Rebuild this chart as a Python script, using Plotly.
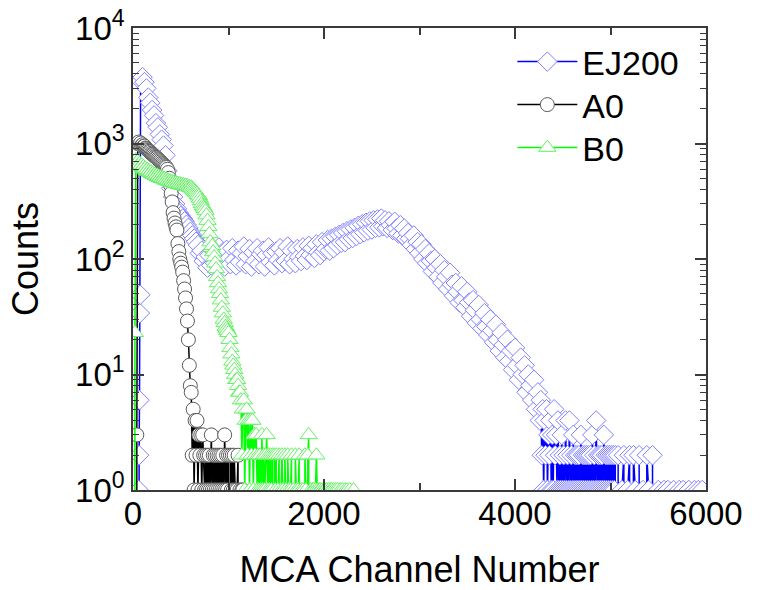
import plotly.graph_objects as go

# ---------------- data ----------------
# EJ200: threshold channels, main grid (step 20), dense tail (step 10), far tail (step 20)
ej200_lead_channel = [0, 20, 40, 60, 64, 68, 72, 76]
ej200_lead_counts = [0, 0, 0, 1, 2, 6, 34, 49]
ej200_main_start, ej200_main_step = 80, 20
ej200_main_counts = [
    3500, 3750, 3400, 3000, 2500, 2250, 1950, 1750, 1500, 1380,
    1200, 1080, 960, 790, 580, 480, 410, 345, 300, 272,
    250, 236, 224, 212, 198, 186, 172, 160, 150, 141,
    132, 112, 118, 96, 104, 84, 108, 88, 118, 92,
    110, 126, 92, 114, 86, 120, 100, 90, 124, 98,
    88, 118, 94, 112, 128, 90, 106, 122, 86, 114,
    96, 124, 90, 110, 118, 86, 108, 126, 94, 112,
    88, 116, 98, 124, 92, 114, 96, 128, 90, 118,
    100, 92, 122, 104, 96, 126, 106, 98, 130, 108,
    124, 102, 134, 114, 108, 140, 116, 122, 146, 118,
    150, 124, 156, 132, 162, 138, 168, 140, 174, 148,
    180, 152, 186, 158, 194, 164, 200, 170, 206, 176,
    212, 180, 216, 186, 220, 188, 224, 192, 216, 186,
    212, 196, 178, 210, 184, 166, 196, 160, 184, 150,
    168, 150, 132, 160, 122, 140, 112, 134, 100, 122,
    92, 112, 96, 78, 100, 84, 70, 90, 62, 80,
    70, 55, 76, 60, 48, 62, 52, 42, 58, 44,
    38, 52, 42, 32, 44, 36, 28, 40, 30, 25,
    34, 26, 22, 30, 24, 19, 27, 20, 16, 23,
    18, 14, 20, 13, 16, 11, 17, 12, 9, 14,
    10, 12, 7, 10, 8, 6, 9, 5, 7, 4,
]
ej200_tail_start, ej200_tail_step = 4270, 10
ej200_tail_counts = [
    6, 2, 5, 1, 4, 2, 5, 1, 3, 2,
    4, 1, 3, 1, 5, 2, 3, 1, 4, 1,
    2, 1, 3, 1, 2, 1, 4, 1, 2, 1,
    4, 1, 2, 1, 3, 1, 2, 1, 2, 1,
    2, 1, 3, 1, 2, 1, 2, 1, 2, 1,
    2, 1, 2, 1, 3, 1, 2, 1, 4, 1,
    2, 1, 2, 1, 2, 1, 3, 1, 2, 1,
    2, 1, 2, 1, 2, 1, 2, 1, 2, 0,
]
ej200_far_start, ej200_far_step = 5080, 20
ej200_far_counts = [
    2, 0, 1, 2, 0, 1, 2, 0, 2, 1,
    0, 2, 0, 1, 0, 2, 1, 0, 2, 0,
    0, 1, 0, 0, 1, 0, 1, 0, 0, 1,
    0, 0, 1, 0, 1, 0, 0, 1, 0, 0,
    1, 0, 1, 0, 1,
]

a0_lead_channel = [0, 20, 40]
a0_lead_counts = [0, 0, 3]
a0_start, a0_step = 50, 10
a0_counts = [
    1000, 1030, 985, 1010, 960, 975, 945, 950, 915, 905,
    885, 870, 855, 845, 825, 810, 800, 785, 770, 760,
    750, 735, 722, 708, 695, 680, 668, 655, 642, 630,
    620, 598, 560, 500, 440, 370, 312, 252, 226, 205,
    190, 178, 136, 116, 100, 92, 85, 77, 65, 55,
    46, 37, 29, 20, 12, 8, 7, 2, 5, 1,
    4, 2, 4, 1, 3, 2, 3, 1, 3, 2,
    1, 2, 1, 2, 1, 2, 1, 3, 1, 2,
    1, 2, 1, 2, 1, 2, 1, 2, 1, 2,
    1, 3, 1, 2, 1, 2, 0, 2, 1, 2,
    1, 2, 1, 0, 1, 2, 0, 1, 0, 1,
    1,
]

b0_lead_channel = [0, 10, 20]
b0_lead_counts = [0, 0, 23]
b0_start, b0_step = 30, 10
b0_counts = [
    720, 690, 700, 660, 670, 640, 650, 620, 630, 600,
    610, 585, 595, 570, 580, 560, 565, 545, 555, 535,
    540, 525, 530, 515, 520, 505, 510, 495, 500, 490,
    495, 480, 488, 475, 480, 468, 472, 460, 465, 455,
    460, 450, 455, 445, 450, 440, 446, 436, 442, 432,
    438, 430, 434, 425, 430, 420, 424, 415, 418, 408,
    400, 392, 385, 378, 370, 360, 350, 335, 318, 300,
    288, 280, 272, 260, 240, 215, 190, 165, 140, 125,
    130, 115, 104, 92, 82, 70, 62, 55, 50, 44,
    38, 34, 30, 28, 26, 25, 24, 23, 20, 17,
    15, 13, 12, 11, 10, 9, 9, 8, 7, 7,
    6, 2, 5, 6, 1, 4, 5, 2, 4, 1,
    4, 2, 4, 1, 3, 2, 3, 1, 2, 1,
    2, 1, 3, 1, 2, 1, 2, 3, 1, 2,
    1, 2, 1, 2, 0, 2, 1, 2, 0, 1,
    2, 0, 1, 2, 1, 0, 2, 1, 0, 2,
    1, 0, 1, 2, 0, 1, 0, 2, 1, 0,
    1, 2, 0, 1, 0, 1, 0, 2, 1, 0,
    2, 3, 0, 1, 0, 1, 1, 0, 1, 2,
    1, 0, 1, 1, 0, 1, 0, 1, 1, 0,
    1, 0, 1, 0, 1, 1, 0, 1, 0, 1,
    0, 1, 0, 0, 1, 0, 1, 0, 0, 1,
    0, 1, 0, 0, 1, 0, 0, 0, 1, 0,
]

x_tick_values = [0, 2000, 4000, 6000]
x_tick_labels = ["0", "2000", "4000", "6000"]
y_tick_values = [1, 10, 100, 1000, 10000]
y_tick_labels = ["10<sup>0</sup>", "10<sup>1</sup>", "10<sup>2</sup>", "10<sup>3</sup>", "10<sup>4</sup>"]


def grid(start, step, vals):
    return [start + step * i for i in range(len(vals))], list(vals)


def series(lead_ch, lead_v, *blocks):
    ch, v = list(lead_ch), list(lead_v)
    for start, step, vals in blocks:
        c, w = grid(start, step, vals)
        ch += c
        v += w
    return ch, v


FONT = "Liberation Sans, Arial, sans-serif"
AXC = "#3a3a3a"

fig = go.Figure()

x, y = series(ej200_lead_channel, ej200_lead_counts,
              (ej200_main_start, ej200_main_step, ej200_main_counts),
              (ej200_tail_start, ej200_tail_step, ej200_tail_counts),
              (ej200_far_start, ej200_far_step, ej200_far_counts))
fig.add_trace(go.Scatter(
    x=x, y=y, mode="lines+markers", name="EJ200", legend="legend",
    line=dict(color="#0000FF", width=1.5),
    marker=dict(symbol="diamond", size=15, color="white",
                line=dict(color="#8080FF", width=1)),
))

x, y = series(a0_lead_channel, a0_lead_counts, (a0_start, a0_step, a0_counts))
fig.add_trace(go.Scatter(
    x=x, y=y, mode="lines+markers", name="A0", legend="legend2",
    line=dict(color="#000000", width=1.5),
    marker=dict(symbol="circle", size=14, color="white",
                line=dict(color="#5a5a5a", width=1)),
))

x, y = series(b0_lead_channel, b0_lead_counts, (b0_start, b0_step, b0_counts))
fig.add_trace(go.Scatter(
    x=x, y=y, mode="lines+markers", name="B0", legend="legend3",
    line=dict(color="#00FF00", width=1.5),
    marker=dict(symbol="triangle-up", size=15, color="white",
                line=dict(color="#66F066", width=1)),
))

minor_y = [m * 10 ** d for d in range(4) for m in range(2, 10)]

legend_style = dict(x=0.662, xanchor="left", yanchor="middle",
                    bgcolor="rgba(0,0,0,0)", borderwidth=0,
                    font=dict(size=34, family=FONT, color="black"),
                    itemwidth=60)

fig.update_layout(
    width=777, height=590,
    margin=dict(l=133, r=71, t=28, b=100, pad=0),
    paper_bgcolor="white", plot_bgcolor="white",
    font=dict(family=FONT, color="black"),
    showlegend=True,
    legend=dict(y=0.9264, **legend_style),
    legend2=dict(y=0.8333, **legend_style),
    legend3=dict(y=0.7403, **legend_style),
)

fig.update_xaxes(
    range=[0, 6000], tickmode="array", tickvals=x_tick_values, ticktext=x_tick_labels,
    ticks="inside", ticklen=11, tickwidth=1.5, tickcolor=AXC,
    minor=dict(tickmode="array", tickvals=[1000, 3000, 5000], ticks="inside",
               ticklen=7, tickwidth=1.5, tickcolor=AXC, showgrid=False),
    showline=True, linecolor=AXC, linewidth=1.5, mirror="allticks",
    showgrid=False, zeroline=False, automargin=False, ticklabelstandoff=-6,
    tickfont=dict(size=33, family=FONT, color="black"),
    title=dict(text="MCA Channel Number", font=dict(size=36, family=FONT, color="black"), standoff=27),
)

fig.update_yaxes(
    type="log", range=[0, 4], tickmode="array", tickvals=y_tick_values, ticktext=y_tick_labels,
    ticks="inside", ticklen=11, tickwidth=1.5, tickcolor=AXC,
    minor=dict(tickmode="array", tickvals=minor_y, ticks="inside",
               ticklen=6, tickwidth=1.2, tickcolor=AXC, showgrid=False),
    showline=True, linecolor=AXC, linewidth=1.5, mirror="allticks",
    showgrid=False, zeroline=False, automargin=False,
    tickfont=dict(size=33, family=FONT, color="black"),
    title=dict(text="Counts", font=dict(size=36, family=FONT, color="black"), standoff=25),
)

fig.write_html("out.html")
